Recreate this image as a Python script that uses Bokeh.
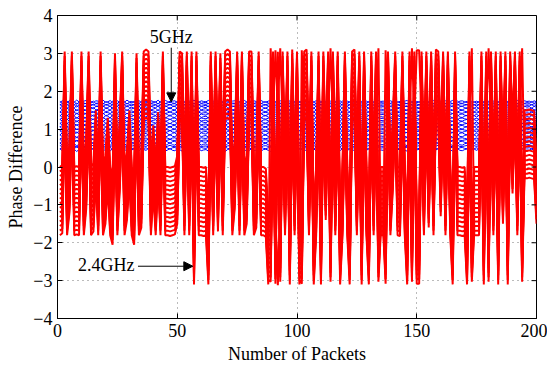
import numpy as np
from bokeh.plotting import figure
from bokeh.models import FixedTicker, Arrow, NormalHead
from bokeh.core.properties import value
from bokeh.embed import file_html
from bokeh.resources import INLINE

# ---------------- data ----------------
packets = list(range(1, 201))

# 2.4 GHz: per-packet phase centre of the red bundle
red_center = [
    -0.9, -0.85, 2.15, -0.9, -0.3, 2.15, -0.9, -0.88, -0.9, 2.15,
    -0.9, -0.2, 2.15, -0.9, -0.8, 0.6, -0.9, 2.15, -0.9, -0.6,
    0.4, -0.9, -1.15, 2.1, -0.9, 0.3, 2.15, -0.9, -0.5, 0.6,
    -0.9, -1.15, 2.1, -0.9, -0.7, 2.15, 2.2, 2.15, -0.9, 0.2,
    -0.9, 0.55, -0.9, 2.15, -0.9, -0.9, -0.92, -0.9, -0.88, -0.6,
    2.15, 2.1, -0.9, 2.15, -0.9, 2.15, -2.2, 2.15, -0.9, -0.9,
    -0.92, -0.9, -2.2, 2.15, -0.9, 2.15, -0.8, 2.1, -0.9, 2.15,
    2.2, 2.15, -0.9, -0.2, 2.15, -0.9, 2.15, -0.9, -0.6, 2.15,
    2.15, -0.9, -0.7, 2.15, -0.9, -0.9, -0.95, -2.2, -2.25, 2.15,
    -2.3, 2.5, -2.25, 2.15, -0.9, 2.15, -2.2, 2.2, -0.9, 2.15,
    -2.2, -2.3, 2.15, 2.2, -0.9, 2.15, -2.2, -0.9, 2.15, -2.2,
    2.15, -0.5, 2.15, -2.25, 2.15, -0.9, 2.15, -2.2, -0.9, 2.15,
    -0.9, -2.2, 2.15, 2.2, -0.9, 2.15, -2.2, 2.15, -0.9, -2.2,
    2.15, -0.9, 2.15, -2.25, -0.9, -0.9, -2.3, 2.15, -0.9, 0.3,
    2.15, -0.9, -0.92, 2.15, -0.9, -2.2, 2.15, -2.25, 2.15, -2.3,
    -2.3, 2.15, -0.9, 2.15, -0.7, 2.15, -0.9, 2.2, 2.15, -0.4,
    2.15, -0.9, 2.15, -0.9, -2.2, 2.15, -0.9, -0.9, -0.92, -0.9,
    -2.2, 2.15, -2.25, -0.9, -0.9, -0.9, 2.15, -2.2, 2.15, -2.25,
    2.15, -0.9, 2.15, -2.2, 2.15, -0.6, 2.15, -2.2, 2.15, 0.2,
    2.15, -0.9, 2.15, -2.25, 0.6, 0.6, 0.62, 0.6, 0.58, -0.6,
]
# spread of the individual 2.4 GHz subcarrier curves around that centre
red_offsets = [-0.9, -0.78, -0.66, -0.54, -0.42, -0.3, -0.18, -0.06,
               0.06, 0.18, 0.3, 0.42, 0.54, 0.66, 0.78, 0.9]

# 5 GHz: level of each subcarrier curve
blue_levels = [0.45, 0.5, 0.55, 0.6, 0.66, 0.71, 0.76, 0.82, 0.88, 0.93,
               0.98, 1.03, 1.08, 1.13, 1.18, 1.23, 1.28, 1.33, 1.38, 1.43,
               1.48, 1.53, 1.58, 1.62, 1.66, 1.7, 1.73]
blue_weights = [1.0, -0.8, 0.6, 1.2, -1.0, 0.5, -0.6, 1.1, -1.2, 0.8,
                -0.5, 1.3, -0.9, 0.7, -1.1, 0.9, -0.7, 1.2, -1.0, 0.6,
                -0.8, 1.1, -1.2, 0.9, -0.6, 1.0, -0.9]
# packet-to-packet wobble of the 5 GHz curves
blue_wobble = [
    0.03, -0.02, 0.01, 0.04, -0.03, 0.0, 0.02, -0.04, 0.01, 0.03, -0.01, -0.03, 0.02, 0.0, 0.04, -0.02, -0.01, 0.03, -0.04, 0.02,
    0.01, -0.03, 0.04, 0.0, -0.02, 0.03, -0.01, 0.02, -0.04, 0.01, 0.0, 0.03, -0.02, -0.03, 0.04, 0.01, -0.01, 0.05, -0.02, 0.0,
    0.02, -0.04, 0.03, 0.01, -0.03, 0.0, 0.04, -0.01, -0.02, 0.03, 0.01, -0.03, 0.02, -0.01, 0.04, 0.0, -0.04, 0.02, 0.03, -0.02,
    0.0, 0.01, -0.03, 0.04, -0.01, 0.02, -0.02, 0.03, 0.0, -0.04, 0.01, 0.03, -0.01, -0.02, 0.04, 0.0, 0.02, -0.03, 0.01, -0.01,
    0.03, -0.02, 0.0, 0.04, -0.03, 0.01, 0.02, -0.01, -0.04, 0.03, 0.0, 0.02, -0.02, 0.01, 0.04, -0.03, -0.01, 0.02, 0.0, -0.02,
    0.03, 0.01, -0.04, 0.02, 0.0, -0.01, 0.03, -0.03, 0.01, 0.04, -0.02, 0.0, 0.02, -0.01, -0.03, 0.03, 0.01, -0.02, 0.04, 0.0,
    -0.01, 0.02, -0.03, 0.01, 0.03, -0.04, 0.0, 0.02, -0.01, 0.03, -0.02, 0.01, 0.04, -0.03, 0.0, -0.01, 0.02, 0.03, -0.02, 0.01,
    -0.04, 0.02, 0.0, 0.03, -0.01, -0.03, 0.04, 0.01, -0.02, 0.0, 0.02, -0.01, 0.03, -0.04, 0.01, 0.02, -0.03, 0.0, 0.04, -0.01,
    0.01, -0.02, 0.03, 0.0, -0.03, 0.02, 0.04, -0.01, -0.02, 0.01, 0.03, -0.04, 0.0, 0.02, -0.01, 0.03, -0.02, 0.01, -0.03, 0.04,
    0.0, -0.01, 0.02, 0.03, -0.02, -0.04, 0.01, 0.0, 0.03, -0.01, 0.02, -0.03, 0.01, 0.04, -0.02, 0.0, -0.01, 0.03, -0.02, 0.01,
]

x_ticks = [0, 50, 100, 150, 200]
y_ticks = [-4, -3, -2, -1, 0, 1, 2, 3, 4]
x_label = "Number of Packets"
y_label = "Phase Difference"
label_5g = "5GHz"
label_24g = "2.4GHz"

# ---------------- figure ----------------
FONT = "Liberation Serif"
X0, X1, Y0, Y1 = 0, 200, -4, 4
p = figure(width=547, height=366, x_range=(X0, X1), y_range=(Y0, Y1),
           output_backend="svg", toolbar_location=None,
           min_border_left=57, min_border_right=11, min_border_top=15, min_border_bottom=44)
p.background_fill_color = "white"
p.border_fill_color = "white"
p.outline_line_color = "black"
p.outline_line_width = 1

p.xgrid.ticker = FixedTicker(ticks=x_ticks)
p.ygrid.ticker = FixedTicker(ticks=y_ticks)
for g in (p.xgrid[0], p.ygrid[0]):
    g.grid_line_color = "#555555"
    g.grid_line_dash = "1 4"
    g.grid_line_width = 1
    g.grid_line_alpha = 0.8

xs = np.array(packets, dtype=float)
bw = np.array(blue_wobble)
blue_xs, blue_ys = [], []
for lvl, w in zip(blue_levels, blue_weights):
    blue_xs.append(xs)
    blue_ys.append(lvl + w * bw)
p.multi_line(blue_xs, blue_ys, line_color="#0000ff", line_width=1)

rc = np.array(red_center)
red_xs, red_ys = [], []
for d in red_offsets:
    red_xs.append(xs)
    red_ys.append(np.angle(np.exp(1j * (rc + d))))
p.multi_line(red_xs, red_ys, line_color="#ff0000", line_width=2)

minus = "\u2212"
def fmt(v):
    return (minus + str(-v)) if v < 0 else str(v)

for ax in (p.xaxis[0], p.yaxis[0]):
    ax.major_label_text_font = FONT
    ax.major_label_text_font_size = "18px"
    ax.major_label_text_color = "black"
    ax.axis_label_text_font = FONT
    ax.axis_label_text_font_size = "18px"
    ax.axis_label_text_font_style = "normal"
    ax.axis_label_text_color = "black"
    ax.major_tick_in = 5
    ax.major_tick_out = 0
    ax.minor_tick_line_color = None
    ax.axis_line_color = "black"
    ax.major_tick_line_color = "black"
    ax.major_label_standoff = 5
    ax.axis_label_standoff = 4

p.xaxis[0].ticker = FixedTicker(ticks=x_ticks)
p.yaxis[0].ticker = FixedTicker(ticks=y_ticks)
p.xaxis[0].major_label_overrides = {t: fmt(t) for t in x_ticks}
p.yaxis[0].major_label_overrides = {t: fmt(t) for t in y_ticks}
p.xaxis[0].axis_label = x_label
p.yaxis[0].axis_label = y_label

# inward ticks on the top and right edges (box style)
tick_len_y = (Y1 - Y0) * 5 / 307
tick_len_x = (X1 - X0) * 5 / 479
p.segment(x0=x_ticks, y0=[Y1] * len(x_ticks), x1=x_ticks, y1=[Y1 - tick_len_y] * len(x_ticks),
          line_color="black", line_width=1)
p.segment(x0=[X1] * len(y_ticks), y0=y_ticks, x1=[X1 - tick_len_x] * len(y_ticks), y1=y_ticks,
          line_color="black", line_width=1)

# annotations
p.text(x=[47.5], y=[3.42], text=[label_5g], text_font=value(FONT), text_font_size="18px",
       text_align="center", text_baseline="middle", text_color="black")
p.add_layout(Arrow(end=NormalHead(size=9, fill_color="black", line_color="black"),
                   x_start=47.5, y_start=3.15, x_end=47.5, y_end=1.72,
                   line_color="black", line_width=1))
p.text(x=[8.6], y=[-2.6], text=[label_24g], text_font=value(FONT), text_font_size="18px",
       text_align="left", text_baseline="middle", text_color="black")
p.add_layout(Arrow(end=NormalHead(size=9, fill_color="black", line_color="black"),
                   x_start=33.6, y_start=-2.62, x_end=56.5, y_end=-2.62,
                   line_color="black", line_width=1))

open("out.html", "w").write(file_html(p, INLINE))
